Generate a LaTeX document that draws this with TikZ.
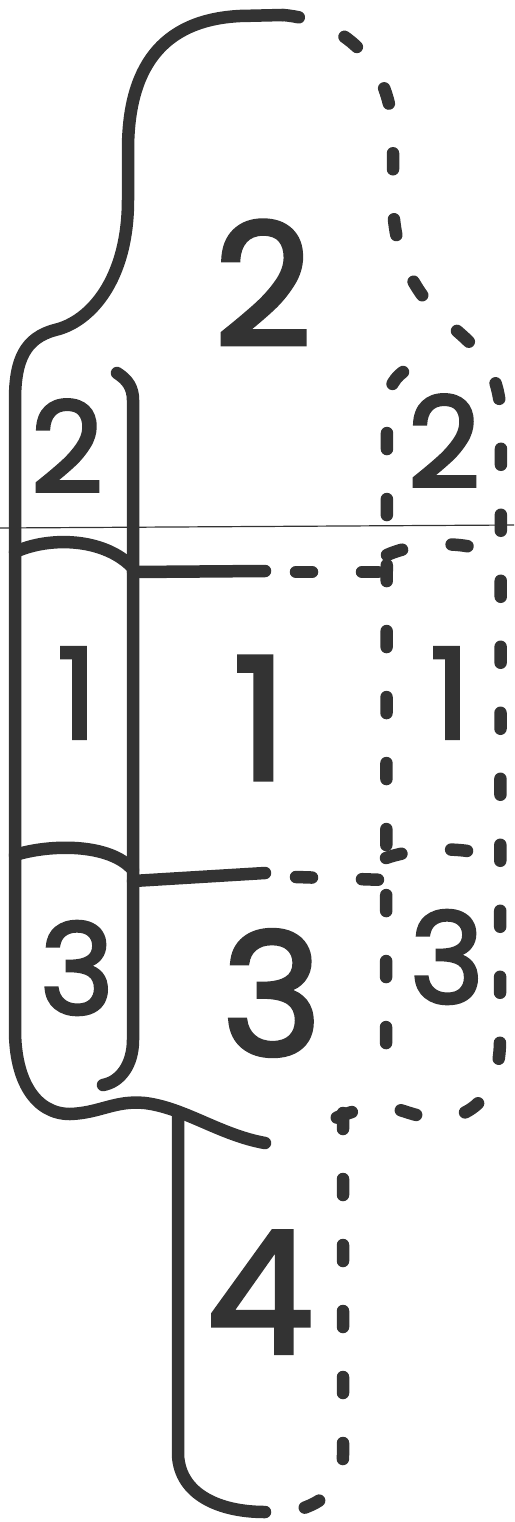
\documentclass[tikz,border=0pt]{standalone}
\usepackage{fontspec}
\newfontfamily\numfont{Poppins}[FakeBold=2.5]
\definecolor{ink}{HTML}{333333}
\tikzset{
  outline/.style={draw=ink, line width=12.5pt, line cap=round, line join=round},
  hidden/.style={outline, dash pattern=on 16pt off 50pt},
  crease/.style={draw=ink, line width=1.2pt},
  bignum/.style={inner sep=0pt, text=ink, font=\fontsize{170}{170}\numfont},
  smallnum/.style={inner sep=0pt, text=ink, font=\fontsize{126}{126}\numfont}
}
\begin{document}
\begin{tikzpicture}[x=1pt, y=-1pt]
  \useasboundingbox (0,0) rectangle (514,1522);

  % solid outline
  \draw[outline] (283,15) -- (240,16) .. controls (160,20) and (128,70) .. (128,150)
    -- (128,200) .. controls (128,280) and (90,322) .. (55,330)
    .. controls (25,338) and (15,360) .. (15,400) -- (15,1030)
    .. controls (15,1080) and (35,1114) .. (70,1114)
    .. controls (100,1113) and (115,1100) .. (145,1103)
    .. controls (185,1108) and (220,1135) .. (265,1143);
  \draw[outline] (178,1112) -- (178,1455) .. controls (180,1495) and (220,1512) .. (265,1512);
  \draw[outline] (117,373) .. controls (128,380) and (133,388) .. (133,400) -- (133,1040)
    .. controls (133,1065) and (120,1082) .. (103,1085);
  \draw[outline] (15,552) .. controls (50,536) and (105,538) .. (133,568);
  \draw[outline] (133,572) -- (265,571);
  \draw[outline] (15,855) .. controls (50,844) and (110,843) .. (133,870);
  \draw[outline] (133,881) -- (265,873);

  % hidden outline
  \draw[hidden] (283,15) .. controls (340,20) and (393,60) .. (393,140) -- (393,200)
    .. controls (393,260) and (420,300) .. (450,325)
    .. controls (480,350) and (500,370) .. (501,420) -- (500,1040)
    .. controls (500,1090) and (475,1118) .. (440,1118)
    .. controls (410,1118) and (400,1105) .. (375,1107)
    .. controls (350,1110) and (330,1120) .. (305,1133);
  \draw[hidden] (343,1113) -- (343,1455) .. controls (343,1490) and (320,1505) .. (290,1512);
  \draw[hidden] (403,372) .. controls (392,380) and (387,392) .. (387,410) -- (386,1040)
    .. controls (386,1065) and (395,1078) .. (410,1082);
  \draw[hidden] (387,555) .. controls (420,540) and (480,540) .. (500,560);
  \draw[hidden] (386,858) .. controls (420,846) and (480,846) .. (500,862);
  \draw[hidden] (296,572) -- (387,572);
  \draw[hidden] (296,877) -- (386,880);

  % fold
  \draw[crease] (0,528) -- (514,525);

  % numbers
  \node[bignum] (topTwo) at (263,283) {2};
  \node[smallnum] (leftTwo) at (67,446) {2};
  \node[smallnum] (rightTwo) at (444,441) {2};
  \node[smallnum] (leftOne) at (77,693) {1};
  \node[bignum] (midOne) at (260,718) {1};
  \node[smallnum] (rightOne) at (450,693) {1};
  \node[smallnum] (leftThree) at (77,968) {3};
  \node[bignum] (midThree) at (272,993) {3};
  \node[smallnum] (rightThree) at (447,957) {3};
  \node[bignum] (four) at (260,1292) {4};
\end{tikzpicture}
\end{document}
